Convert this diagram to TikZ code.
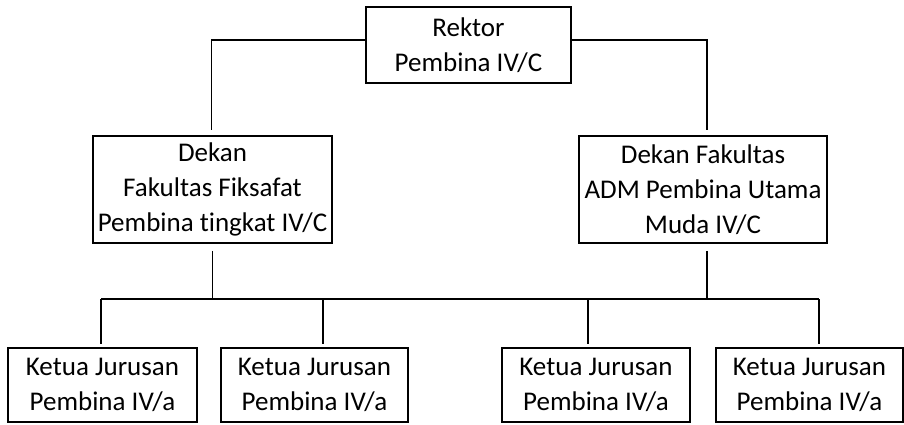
\documentclass[tikz,border=0pt]{standalone}
\usepackage{fontspec}
\setmainfont[Ligatures=NoCommon]{Carlito}
\usepackage{tikz}
\usetikzlibrary{positioning}

\begin{document}
\begin{tikzpicture}[
  x=1pt, y=-1pt,
  every node/.style={font=\fontsize{27}{35}\selectfont},
  jabatan/.style={rectangle, draw, line width=1.5pt, align=center, inner sep=0pt},
  garis/.style={line width=1.5pt}
]
  \useasboundingbox (0,0) rectangle (904,424);

  % Main components
  \node[jabatan, minimum width=205, minimum height=76] (rektor) at (468.5,45) {Rektor\\Pembina IV/C};
  \node[jabatan, minimum width=239, minimum height=107] (dekanA) at (212.5,189.5) {Dekan\\Fakultas Fiksafat\\Pembina tingkat IV/C};
  \node[jabatan, minimum width=248, minimum height=107] (dekanB) at (703,189.5) {Dekan Fakultas\\ADM Pembina Utama\\Muda IV/C};

  % Ketua jurusan
  \node[jabatan, minimum width=189, minimum height=74] (k1) at (102.5,385) {Ketua Jurusan\\Pembina IV/a};
  \node[jabatan, minimum width=187, minimum height=74] (k2) at (314.5,385) {Ketua Jurusan\\Pembina IV/a};
  \node[jabatan, minimum width=188, minimum height=74] (k3) at (596,385) {Ketua Jurusan\\Pembina IV/a};
  \node[jabatan, minimum width=187, minimum height=74] (k4) at (809.5,385) {Ketua Jurusan\\Pembina IV/a};

  % Connections
  \coordinate (busL) at (101,299);
  \coordinate (busR) at (819,299);
  \draw[garis, shorten >=5pt] ([yshift=5]rektor.west) -| ([xshift=-1]dekanA.north);
  \draw[garis, shorten >=5pt] ([yshift=5]rektor.east) -| ([xshift=4]dekanB.north);
  \draw[garis, shorten <=7pt] (dekanA.south) -- (dekanA.south |- busL);
  \draw[garis, shorten <=7pt] ([xshift=4]dekanB.south) -- ([xshift=4]dekanB.south |- busL);
  \draw[garis] (busL) -- (busR);
  \foreach \n/\dx in {k1/-1.5, k2/8.5, k3/-8, k4/9.5}
    \draw[garis, shorten >=3pt] ([xshift=\dx]\n.north |- busL) -- ([xshift=\dx]\n.north);
\end{tikzpicture}
\end{document}
